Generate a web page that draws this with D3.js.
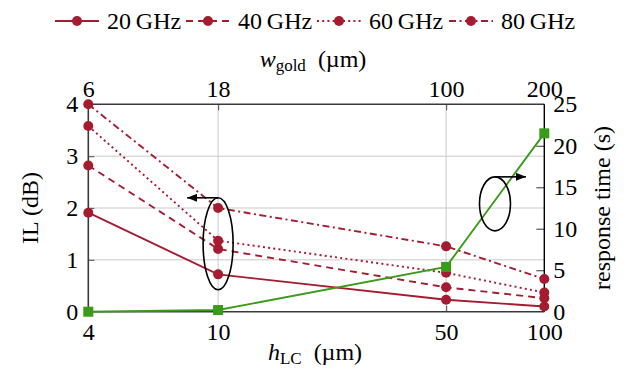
<!DOCTYPE html>
<html><head><meta charset="utf-8">
<script src="https://cdn.jsdelivr.net/npm/d3@7"></script>
<style>
body{margin:0;background:#fff}
svg{display:block}
svg text{font-family:'Liberation Serif',serif;fill:#000}
</style>
</head><body><svg id="c" width="629" height="377"></svg>
<script>
// ---- data ----
const hLC = [4, 10, 50, 100];            // bottom axis (µm)
const wGold = [6, 18, 100, 200];         // top axis labels (µm)
const seriesNames = ["20 GHz", "40 GHz", "60 GHz", "80 GHz"];
const il20 = [1.91, 0.72, 0.23, 0.10];
const il40 = [2.82, 1.21, 0.47, 0.26];
const il60 = [3.58, 1.37, 0.75, 0.37];
const il80 = [4.00, 2.00, 1.26, 0.63];
const responseTime = [0.0, 0.2, 5.4, 21.5];
const ilTicks = [0, 1, 2, 3, 4];
const rtTicks = [0, 5, 10, 15, 20, 25];

// ---- styles ----
const RED = "#a51c30", GREEN = "#3a9a1a";
const FONT = "'Liberation Serif',serif";
const dashes = [null, "7,5", "2,3.2", "7,3.5,2,3.5"];
const ilSeries = [il20, il40, il60, il80];

const svg = d3.select("#c").attr("font-family", FONT);
const L = 88.3, R = 544.3, T = 104.3, B = 311.7;
const x = d3.scaleLog().domain([4, 100]).range([L, R]);
const yL = d3.scaleLinear().domain([0, 4]).range([B, T]);
const yR = d3.scaleLinear().domain([0, 25]).range([B, T]);

// grid
const g = svg.append("g");
g.selectAll(".gh").data(ilTicks.filter(d => d > 0 && d < 4)).join("line")
  .attr("x1", L).attr("x2", R).attr("y1", d => yL(d)).attr("y2", d => yL(d))
  .attr("stroke", "#c9c9c9").attr("stroke-width", 1);
g.selectAll(".gv").data(hLC.slice(1, 3)).join("line")
  .attr("x1", d => x(d)).attr("x2", d => x(d)).attr("y1", T).attr("y2", B)
  .attr("stroke", "#c9c9c9").attr("stroke-width", 1);

const FS = 24;
function styleAxis(sel, tickColor) {
  sel.attr("font-family", FONT).attr("font-size", FS);
  sel.select(".domain").remove();
  sel.selectAll(".tick line").attr("stroke", tickColor).attr("stroke-width", 1.2);
  sel.selectAll(".tick text").attr("font-size", FS).attr("font-family", FONT).attr("fill", "#000");
}
const fmt = d3.format("d");
// left axis
const ax1 = svg.append("g").attr("transform", `translate(${L},0)`)
  .call(d3.axisLeft(yL).tickValues(ilTicks).tickFormat(fmt).tickSize(-6).tickPadding(10));
styleAxis(ax1, "#666");
ax1.selectAll(".tick").filter(d => d === 0 || d === 4).select("line").remove();
// bottom axis
const ax2 = svg.append("g").attr("transform", `translate(0,${B})`)
  .call(d3.axisBottom(x).tickValues(hLC).tickFormat(fmt).tickSize(-6).tickPadding(11));
styleAxis(ax2, "#666");
ax2.selectAll(".tick").filter((d, i) => i === 0 || i === 3).select("line").remove();
// top axis
const ax3 = svg.append("g").attr("transform", `translate(0,${T})`)
  .call(d3.axisTop(x).tickValues(hLC).tickFormat((d, i) => wGold[i]).tickSize(-6).tickPadding(7));
styleAxis(ax3, "#666");
ax3.selectAll(".tick").filter((d, i) => i === 0 || i === 3).select("line").remove();
// right axis
const ax4 = svg.append("g").attr("transform", `translate(${R},0)`)
  .call(d3.axisRight(yR).tickValues(rtTicks).tickFormat(fmt).tickSize(-8).tickPadding(9));
styleAxis(ax4, "#555");
ax4.selectAll(".tick").filter(d => d === 0 || d === 25).select("line").remove();

// frame
svg.append("line").attr("x1", L).attr("x2", L).attr("y1", T).attr("y2", B).attr("stroke", "#3a3a3a").attr("stroke-width", 1.6);
svg.append("line").attr("x1", L).attr("x2", R).attr("y1", B).attr("y2", B).attr("stroke", "#3a3a3a").attr("stroke-width", 1.6);
svg.append("line").attr("x1", L).attr("x2", R).attr("y1", T).attr("y2", T).attr("stroke", "#3a3a3a").attr("stroke-width", 1.6);
svg.append("line").attr("x1", R).attr("x2", R).attr("y1", T).attr("y2", B).attr("stroke", "#000").attr("stroke-width", 1.4);

// IL series
ilSeries.forEach((vals, si) => {
  const pts = hLC.map((h, i) => [h, vals[i]]);
  const line = d3.line().x(d => x(d[0])).y(d => yL(d[1]));
  svg.append("path").attr("d", line(pts)).attr("fill", "none")
    .attr("stroke", RED).attr("stroke-width", 1.9)
    .attr("stroke-dasharray", dashes[si]);
  svg.append("g").selectAll("circle").data(pts).join("circle")
    .attr("cx", d => x(d[0])).attr("cy", d => yL(d[1])).attr("r", 5).attr("fill", RED);
});
// response time
const rtPts = hLC.map((h, i) => [h, responseTime[i]]);
svg.append("path").attr("d", d3.line().x(d => x(d[0])).y(d => yR(d[1]))(rtPts))
  .attr("fill", "none").attr("stroke", GREEN).attr("stroke-width", 1.9);
svg.append("g").selectAll("rect").data(rtPts).join("rect")
  .attr("x", d => x(d[0]) - 5).attr("y", d => yR(d[1]) - 5).attr("width", 10).attr("height", 10).attr("fill", GREEN);

// annotations
const defs = svg.append("defs");
defs.append("marker").attr("id", "ah").attr("viewBox", "0 0 10 8").attr("refX", 10).attr("refY", 4)
  .attr("markerWidth", 10).attr("markerHeight", 8).attr("markerUnits", "userSpaceOnUse").attr("orient", "auto")
  .append("path").attr("d", "M0,0 L10,4 L0,8 Z").attr("fill", "#000");
function ellipseArrow(cx, cy, rx, ry, dir) {
  svg.append("ellipse").attr("cx", cx).attr("cy", cy).attr("rx", rx).attr("ry", ry)
    .attr("fill", "none").attr("stroke", "#000").attr("stroke-width", 1.6);
  svg.append("line").attr("x1", cx).attr("y1", cy - ry).attr("x2", cx + dir * 31).attr("y2", cy - ry)
    .attr("stroke", "#000").attr("stroke-width", 1.6).attr("marker-end", "url(#ah)");
}
ellipseArrow(x(10), yL(1.31), 15, 46, -1);
ellipseArrow(x(70.6), yR(13.0), 15.5, 27, 1);

// axis titles
const t1 = svg.append("text").attr("x", 313).attr("y", 67).attr("text-anchor", "middle").attr("font-size", FS);
t1.append("tspan").attr("font-style", "italic").text("w");
t1.append("tspan").attr("font-size", 17).attr("dy", 4).text("gold");
t1.append("tspan").attr("dy", -4).text("\u2002(\u00b5m)");
const t2 = svg.append("text").attr("x", 315).attr("y", 360).attr("text-anchor", "middle").attr("font-size", FS);
t2.append("tspan").attr("font-style", "italic").text("h");
t2.append("tspan").attr("font-size", 17).attr("dy", 4).text("LC");
t2.append("tspan").attr("dy", -4).text("\u2002(\u00b5m)");
svg.append("text").attr("transform", "translate(37.5,208) rotate(-90)").attr("text-anchor", "middle")
  .attr("font-size", FS).text("IL (dB)");
svg.append("text").attr("transform", "translate(610,208) rotate(-90)").attr("text-anchor", "middle")
  .attr("font-size", FS).text("response time (s)");

// legend
const legX = [55, 186, 317, 449];
seriesNames.forEach((name, i) => {
  const lg = svg.append("g").attr("transform", `translate(${legX[i]},21)`);
  lg.append("line").attr("x1", 0).attr("x2", 44).attr("y1", 0).attr("y2", 0)
    .attr("stroke", RED).attr("stroke-width", 1.9).attr("stroke-dasharray", dashes[i]);
  lg.append("circle").attr("cx", 22).attr("cy", 0).attr("r", 5).attr("fill", RED);
  lg.append("text").attr("x", 52).attr("y", 7.8).attr("font-size", FS).text(name.replace(" ", "\u2009"));
});
</script>
</body></html>
